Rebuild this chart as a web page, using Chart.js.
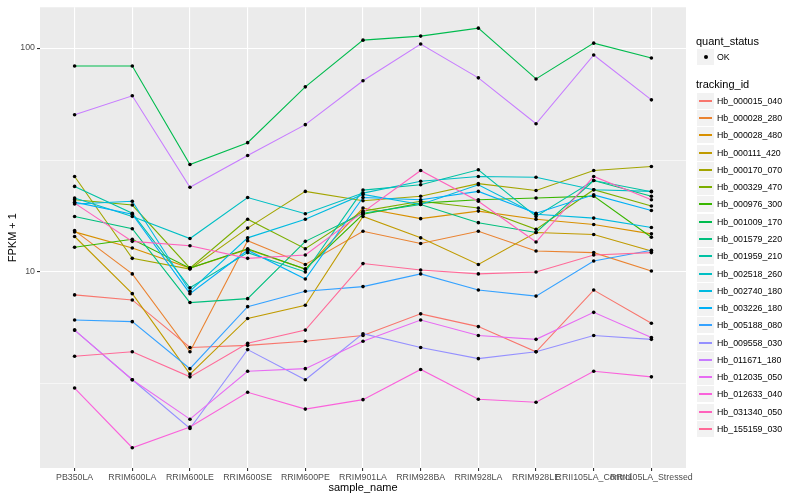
<!DOCTYPE html>
<html>
<head>
<meta charset="utf-8">
<script src="https://cdn.jsdelivr.net/npm/chart.js@4"></script>
<style>
  body { margin: 0; background: #fff; }
  #wrap { position: relative; width: 800px; height: 500px; font-family: "Liberation Sans", Arial, sans-serif; }
  canvas { position: absolute; left: 0; top: 0; }
  .txt { position: absolute; white-space: nowrap; height: 14px; line-height: 14px; color: #000; }
  .key { position: absolute; width: 17px; height: 16px; background: #F2F2F2; }
  .seg { position: absolute; left: 2px; width: 13px; top: 7px; height: 2px; }
</style>
</head>
<body>
<div id="wrap"><canvas id="chart" width="800" height="500"></canvas><div id="legend"></div></div>
<script>
// ---------- data ----------
const sampleNames = ['PB350LA', 'RRIM600LA', 'RRIM600LE', 'RRIM600SE', 'RRIM600PE', 'RRIM901LA',
  'RRIM928BA', 'RRIM928LA', 'RRIM928LE', 'RRII105LA_Control', 'RRII105LA_Stressed'];

const trackingIds = ['Hb_000015_040', 'Hb_000028_280', 'Hb_000028_480', 'Hb_000111_420', 'Hb_000170_070',
  'Hb_000329_470', 'Hb_000976_300', 'Hb_001009_170', 'Hb_001579_220', 'Hb_001959_210',
  'Hb_002518_260', 'Hb_002740_180', 'Hb_003226_180', 'Hb_005188_080', 'Hb_009558_030',
  'Hb_011671_180', 'Hb_012035_050', 'Hb_012633_040', 'Hb_031340_050', 'Hb_155159_030'];

// FPKM + 1, one value per sample
const hb000015_040 = [7.9, 7.5, 4.6, 4.7, 4.9, 5.2, 6.5, 5.7, 4.4, 8.3, 5.9];
const hb000028_280 = [15.3, 9.8, 4.4, 13.8, 10.8, 15.2, 13.4, 15.2, 12.4, 12.2, 10.1];
const hb000028_480 = [15.1, 12.8, 10.4, 12.6, 10.3, 19.3, 17.3, 18.7, 17.2, 16.3, 14.8];
const hb000111_420 = [14.4, 8.0, 3.5, 6.2, 7.1, 17.7, 14.2, 10.8, 15.0, 14.7, 12.4];
const hb000170_070 = [26.7, 11.5, 10.3, 15.7, 22.9, 20.8, 21.8, 24.8, 23.1, 28.4, 29.6];
const hb000329_470 = [21.0, 19.9, 10.4, 17.2, 12.7, 18.7, 20.7, 19.3, 15.5, 23.3, 19.7];
const hb000976_300 = [12.9, 14.0, 10.4, 12.7, 10.3, 18.1, 20.3, 21.0, 21.4, 21.8, 14.3];
const hb001009_170 = [83.2, 83.2, 30.2, 37.8, 67.1, 108.5, 113.1, 122.7, 72.8, 105.2, 90.3];
const hb001579_220 = [17.7, 15.6, 7.3, 7.6, 13.7, 18.3, 20.0, 16.6, 15.0, 25.6, 21.8];
const hb001959_210 = [24.1, 18.3, 8.5, 12.2, 10.0, 23.2, 24.5, 28.6, 17.7, 25.6, 22.8];
const hb002518_260 = [21.4, 17.7, 14.1, 21.5, 18.2, 22.5, 25.4, 26.7, 26.5, 23.3, 22.9];
const hb002740_180 = [20.1, 20.7, 8.2, 14.2, 17.2, 22.2, 20.0, 24.5, 18.1, 17.4, 15.8];
const hb003226_180 = [20.5, 18.1, 8.0, 12.5, 9.3, 21.5, 21.0, 22.9, 18.3, 22.1, 18.8];
const hb005188_080 = [6.1, 6.0, 3.7, 7.0, 8.2, 8.6, 9.8, 8.3, 7.8, 11.2, 12.5];
const hb009558_030 = [5.5, 3.3, 2.0, 4.5, 3.3, 5.3, 4.6, 4.1, 4.4, 5.2, 5.0];
const hb011671_180 = [50.4, 61.2, 23.9, 33.1, 45.5, 71.4, 104.2, 73.6, 45.9, 93.1, 58.7];
const hb012035_050 = [5.5, 3.3, 2.2, 3.6, 3.7, 4.9, 6.1, 5.2, 5.0, 6.6, 5.1];
const hb012633_040 = [3.03, 1.64, 2.03, 2.90, 2.44, 2.69, 3.67, 2.70, 2.62, 3.60, 3.40];
const hb031340_050 = [20.3, 13.7, 13.1, 11.5, 11.9, 18.5, 28.4, 20.7, 13.6, 26.7, 21.0];
const hb155159_030 = [4.2, 4.4, 3.4, 4.8, 5.5, 10.9, 10.2, 9.8, 10.0, 11.9, 12.2];

const seriesValues = [hb000015_040, hb000028_280, hb000028_480, hb000111_420, hb000170_070,
  hb000329_470, hb000976_300, hb001009_170, hb001579_220, hb001959_210,
  hb002518_260, hb002740_180, hb003226_180, hb005188_080, hb009558_030,
  hb011671_180, hb012035_050, hb012633_040, hb031340_050, hb155159_030];

const yTickValues = [10, 100];
const yTickLabels = ['10', '100'];
const yMinorValues = [3.1623, 31.623];

// ---------- colours (ggplot hue palette, hcl c=100 l=65) ----------
function hcl(h, c, l) {
  const hr = h * Math.PI / 180;
  const U = c * Math.cos(hr), V = c * Math.sin(hr);
  const Xn = 95.047, Yn = 100, Zn = 108.883;
  const d = Xn + 15 * Yn + 3 * Zn;
  const un = 4 * Xn / d, vn = 9 * Yn / d;
  const Y = Yn * Math.pow((l + 16) / 116, 3);
  const u = U / (13 * l) + un, v = V / (13 * l) + vn;
  const X = Y * 9 * u / (4 * v);
  const Z = Y * (12 - 3 * u - 20 * v) / (4 * v);
  const x = X / 100, y = Y / 100, z = Z / 100;
  const lin = [
    3.240479 * x - 1.537150 * y - 0.498535 * z,
    -0.969256 * x + 1.875992 * y + 0.041556 * z,
    0.055648 * x - 0.204043 * y + 1.057311 * z
  ];
  const rgb = lin.map(t => {
    const g = t <= 0.0031308 ? 12.92 * t : 1.055 * Math.pow(t, 1 / 2.4) - 0.055;
    return Math.round(Math.min(1, Math.max(0, g)) * 255);
  });
  return 'rgb(' + rgb.join(',') + ')';
}
const colors = trackingIds.map((_, i) => hcl(15 + 360 / 20 * i, 100, 65));

// ---------- datasets ----------
const n = seriesValues.length;
const lineSets = seriesValues.map((vals, i) => ({
  label: trackingIds[i],
  data: vals.map((v, j) => ({ x: j, y: v })),
  borderColor: colors[i],
  borderWidth: 1.1,
  pointRadius: 0,
  fill: false,
  tension: 0,
  order: n - i + 1
}));
const pointSet = {
  label: 'OK',
  data: seriesValues.flatMap(vals => vals.map((v, j) => ({ x: j, y: v }))),
  showLine: false,
  pointRadius: 1.8,
  pointBackgroundColor: '#000',
  pointBorderWidth: 0,
  order: 0
};

// grey panel background
const panelBg = {
  id: 'panelBg',
  beforeDraw(chart) {
    const a = chart.chartArea, c = chart.ctx;
    c.save();
    c.fillStyle = '#EBEBEB';
    c.fillRect(a.left, a.top, a.right - a.left, a.bottom - a.top);
    c.restore();
  }
};

const isMajor = v => yTickValues.some(t => Math.abs(t - v) < 1e-6);

new Chart(document.getElementById('chart'), {
  type: 'line',
  data: { datasets: [...lineSets, pointSet] },
  options: {
    responsive: false,
    animation: false,
    layout: { padding: { left: 0, right: 114, top: 5, bottom: 0 } },
    plugins: { legend: { display: false }, tooltip: { enabled: false } },
    scales: {
      x: {
        type: 'linear',
        min: -0.6,
        max: sampleNames.length - 1 + 0.6,
        afterBuildTicks: s => { s.ticks = sampleNames.map((_, i) => ({ value: i })); },
        afterFit: s => { s.height = 32; },
        ticks: {
          callback: v => sampleNames[v],
          autoSkip: false, maxRotation: 0, minRotation: 0,
          padding: 1,
          color: '#4D4D4D',
          font: { family: 'Liberation Sans', size: 8.8 }
        },
        grid: { color: '#FFFFFF', lineWidth: 1.1, tickLength: 3, tickColor: '#333333', drawOnChartArea: true },
        border: { display: false },
        title: {
          display: true, text: 'sample_name', color: '#000',
          font: { family: 'Liberation Sans', size: 11 },
          padding: { top: 0, bottom: 5 }
        }
      },
      y: {
        type: 'logarithmic',
        min: 1.3317,
        max: 152.1,
        afterBuildTicks: s => {
          s.ticks = [...yMinorValues, ...yTickValues].sort((a, b) => a - b).map(v => ({ value: v }));
        },
        afterFit: s => { s.width = 40; },
        ticks: {
          callback: v => {
            const k = yTickValues.findIndex(t => Math.abs(t - v) < 1e-6);
            return k >= 0 ? yTickLabels[k] : '';
          },
          padding: 2,
          color: '#4D4D4D',
          font: { family: 'Liberation Sans', size: 8.8 }
        },
        grid: {
          color: '#FFFFFF',
          lineWidth: ctx => isMajor(ctx.tick.value) ? 1.1 : 0.55,
          tickLength: 3,
          tickColor: ctx => isMajor(ctx.tick.value) ? '#333333' : 'rgba(0,0,0,0)'
        },
        border: { display: false },
        title: {
          display: true, text: 'FPKM + 1', color: '#000',
          font: { family: 'Liberation Sans', size: 11 },
          padding: { top: 6, bottom: 0 }
        }
      }
    }
  },
  plugins: [panelBg]
});

// ---------- legend (ggplot style) ----------
const legend = document.getElementById('legend');
function addText(text, x, cy, size) {
  const d = document.createElement('div');
  d.className = 'txt';
  d.style.left = x + 'px';
  d.style.top = Math.round(cy - 7) + 'px';
  d.style.fontSize = size + 'px';
  d.textContent = text;
  legend.appendChild(d);
}
function addKey(top) {
  const k = document.createElement('div');
  k.className = 'key';
  k.style.left = '697px';
  k.style.top = Math.round(top) + 'px';
  legend.appendChild(k);
  return k;
}

addText('quant_status', 696, 40.5, 11);
const okKey = addKey(49);
const dot = document.createElement('div');
dot.style.cssText = 'position:absolute;left:7px;top:6px;width:4px;height:4px;border-radius:50%;background:#000';
okKey.appendChild(dot);
addText('OK', 717, 57, 8.8);

addText('tracking_id', 696, 84, 11);
trackingIds.forEach((id, i) => {
  const cy = 100.7 + i * 17.28;
  const k = addKey(cy - 8);
  const seg = document.createElement('div');
  seg.className = 'seg';
  seg.style.background = colors[i];
  k.appendChild(seg);
  addText(id, 717, cy, 8.8);
});
</script>
</body>
</html>
